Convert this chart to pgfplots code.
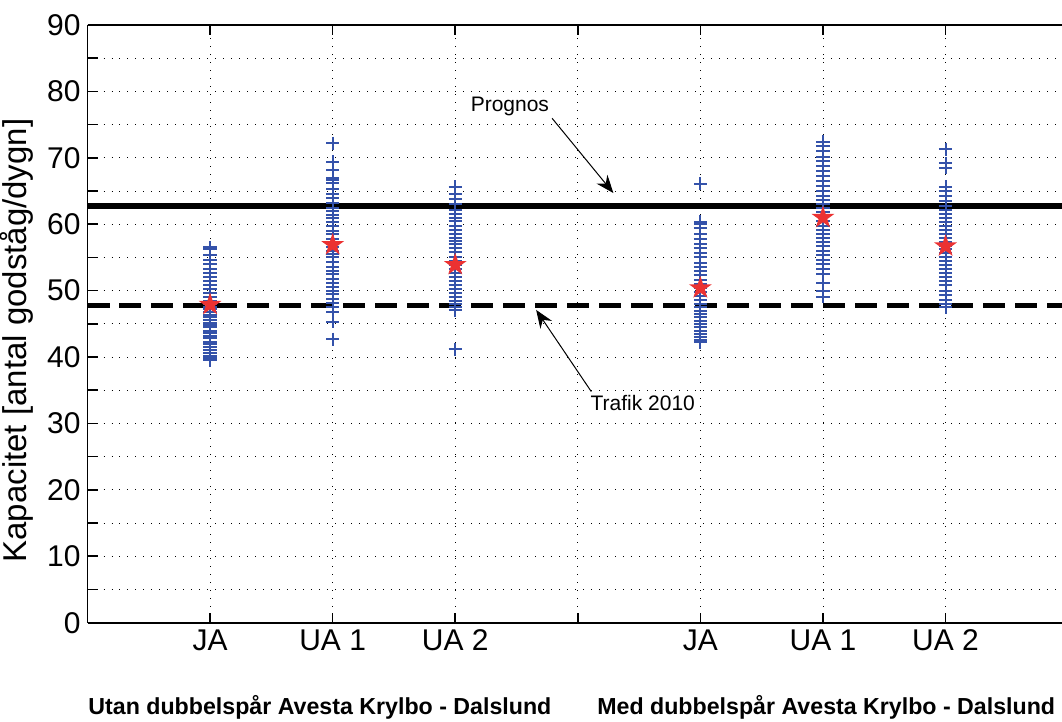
\documentclass[border=0pt]{standalone}
\usepackage{fontspec}
\setmainfont{Liberation Sans}
\usepackage{pgfplots}
\pgfplotsset{compat=1.18}
\usetikzlibrary{arrows.meta}

\definecolor{plusblue}{RGB}{52,82,170}
\definecolor{starred}{RGB}{235,50,50}

\pgfdeclareplotmark{pentagram}{%
  \pgfpathmoveto{\pgfpointpolar{90}{\pgfplotmarksize}}%
  \pgfpathlineto{\pgfpointpolar{126}{0.382\pgfplotmarksize}}%
  \pgfpathlineto{\pgfpointpolar{162}{\pgfplotmarksize}}%
  \pgfpathlineto{\pgfpointpolar{198}{0.382\pgfplotmarksize}}%
  \pgfpathlineto{\pgfpointpolar{234}{\pgfplotmarksize}}%
  \pgfpathlineto{\pgfpointpolar{270}{0.382\pgfplotmarksize}}%
  \pgfpathlineto{\pgfpointpolar{306}{\pgfplotmarksize}}%
  \pgfpathlineto{\pgfpointpolar{342}{0.382\pgfplotmarksize}}%
  \pgfpathlineto{\pgfpointpolar{18}{\pgfplotmarksize}}%
  \pgfpathlineto{\pgfpointpolar{54}{0.382\pgfplotmarksize}}%
  \pgfpathclose
  \pgfusepathqfill}

\begin{document}
\begin{tikzpicture}
\begin{axis}[
  scale only axis, width=487.5pt, height=299pt,
  xmin=0, xmax=7.95, ymin=0, ymax=90,
  axis x line*=box, axis y line*=left,
  xtick={1,2,3,4,5,6,7},
  xticklabels={JA,UA 1,UA 2,,JA,UA 1,UA 2},
  ytick={0,5,...,90},
  yticklabels={0,,10,,20,,30,,40,,50,,60,,70,,80,,90},
  tick align=inside, major tick length=5pt,
  grid=major,
  grid style={black, line width=0.45pt, dash pattern=on 0.5pt off 3.5pt},
  axis line style={black, line width=0.8pt},
  tick style={black, line width=0.8pt},
  tick label style={font=\fontsize{15}{18}\selectfont},
  ylabel={Kapacitet [antal godståg/dygn]},
  ylabel style={font=\fontsize{16.5}{19}\selectfont, at={(ticklabel cs:0.472)}},
  /pgf/number format/assume math mode=true,
  clip=false,
]
% simulated capacities (blue +)
\addplot[only marks, mark=+, mark size=3.3pt, plusblue, line width=1pt] coordinates {
 (1,56.5) (1,56.2) (1,55.3) (1,54.6) (1,54.0) (1,53.2) (1,52.6) (1,52.0) (1,51.5) (1,50.8)
 (1,50.2) (1,49.6) (1,49.0) (1,48.5) (1,48.0) (1,47.6) (1,47.2) (1,46.8) (1,46.4) (1,46.0)
 (1,45.6) (1,45.2) (1,44.8) (1,44.5) (1,44.0) (1,43.6) (1,43.2) (1,42.8) (1,42.3) (1,41.9)
 (1,41.5) (1,41.0) (1,40.6) (1,40.2) (1,39.8) (1,39.5)
 (2,72.2) (2,69.4) (2,68.2) (2,67.0) (2,66.6) (2,66.2) (2,65.3) (2,64.5) (2,64.0) (2,63.2)
 (2,62.5) (2,62.0) (2,61.4) (2,61.0) (2,60.3) (2,59.8) (2,59.0) (2,58.5) (2,57.8) (2,57.0)
 (2,56.5) (2,56.0) (2,55.5) (2,55.0) (2,54.3) (2,53.6) (2,53.0) (2,52.5) (2,51.8) (2,51.2)
 (2,50.6) (2,50.0) (2,49.5) (2,48.8) (2,48.2) (2,47.6) (2,46.8) (2,45.3) (2,42.7)
 (3,65.6) (3,64.5) (3,63.8) (3,63.0) (3,62.2) (3,61.6) (3,61.0) (3,60.5) (3,59.8) (3,59.2)
 (3,58.6) (3,58.0) (3,57.5) (3,57.0) (3,56.4) (3,55.8) (3,55.0) (3,54.5) (3,53.8) (3,53.2)
 (3,52.6) (3,52.0) (3,51.4) (3,50.8) (3,50.2) (3,49.6) (3,49.0) (3,48.5) (3,48.0) (3,47.5)
 (3,47.1) (3,41.2)
 (5,66.1) (5,60.4) (5,60.0) (5,59.4) (5,58.6) (5,57.8) (5,57.0) (5,56.4) (5,55.6) (5,55.0)
 (5,54.2) (5,53.5) (5,53.0) (5,52.3) (5,51.6) (5,51.0) (5,50.4) (5,49.8) (5,49.2) (5,48.6)
 (5,48.0) (5,47.5) (5,47.0) (5,46.5) (5,46.0) (5,45.5) (5,45.0) (5,44.5) (5,44.0) (5,43.5)
 (5,43.0) (5,42.6) (5,42.2)
 (6,72.4) (6,71.8) (6,71.0) (6,70.2) (6,69.5) (6,68.8) (6,68.0) (6,67.2) (6,66.5) (6,65.8)
 (6,65.0) (6,64.3) (6,63.6) (6,63.0) (6,62.4) (6,61.8) (6,61.2) (6,60.5) (6,59.8) (6,59.2)
 (6,58.6) (6,58.0) (6,57.4) (6,56.8) (6,56.0) (6,55.3) (6,54.6) (6,54.0) (6,53.2) (6,52.5)
 (6,51.2) (6,50.0) (6,49.1)
 (7,71.3) (7,69.2) (7,68.5) (7,65.6) (7,65.0) (7,64.2) (7,63.5) (7,62.8) (7,62.2) (7,61.6)
 (7,61.0) (7,60.4) (7,59.8) (7,59.2) (7,58.6) (7,58.0) (7,57.4) (7,56.8) (7,56.2) (7,55.6)
 (7,55.0) (7,54.4) (7,53.8) (7,53.2) (7,52.6) (7,52.0) (7,51.4) (7,50.8) (7,50.0) (7,49.3)
 (7,48.6) (7,48.0) (7,47.5)
};
% mean values (red stars)
\addplot[only marks, mark=pentagram, mark size=6pt, starred] coordinates {
 (1,47.9) (2,56.9) (3,53.9) (5,50.4) (6,61.0) (7,56.7)
};
% Prognos
\addplot[black, line width=3pt, no marks] coordinates {(0,62.8) (7.95,62.8)};
% Trafik 2010
\addplot[black, line width=2.4pt, no marks, dash pattern=on 11pt off 5pt] coordinates {(0,47.8) (7.95,47.8)};

\node[font=\fontsize{10.5}{12}\selectfont] at (axis cs:3.446,77.7) {Prognos};
\draw[line width=0.5pt, -{Stealth[length=9pt,width=7pt,inset=3pt]}] (axis cs:3.79,75.96) -- (axis cs:4.29,64.7);
\node[font=\fontsize{10.5}{12}\selectfont] at (axis cs:4.53,33.1) {Trafik 2010};
\draw[line width=0.5pt, -{Stealth[length=9pt,width=7pt,inset=3pt]}] (axis cs:4.11,34.8) -- (axis cs:3.66,47.1);

\node[anchor=west, inner sep=0pt, font=\bfseries\fontsize{11.6}{14}\selectfont] at (axis cs:0.004,-12.8) {Utan dubbelspår Avesta Krylbo - Dalslund};
\node[anchor=west, inner sep=0pt, font=\bfseries\fontsize{11.6}{14}\selectfont] at (axis cs:4.156,-12.8) {Med dubbelspår Avesta Krylbo - Dalslund};

\coordinate (bbsw) at (axis cs:-0.714,-14.9);
\coordinate (bbne) at (axis cs:7.95,93.77);
\end{axis}
\pgfresetboundingbox
\useasboundingbox (bbsw) rectangle (bbne);
\end{tikzpicture}
\end{document}
